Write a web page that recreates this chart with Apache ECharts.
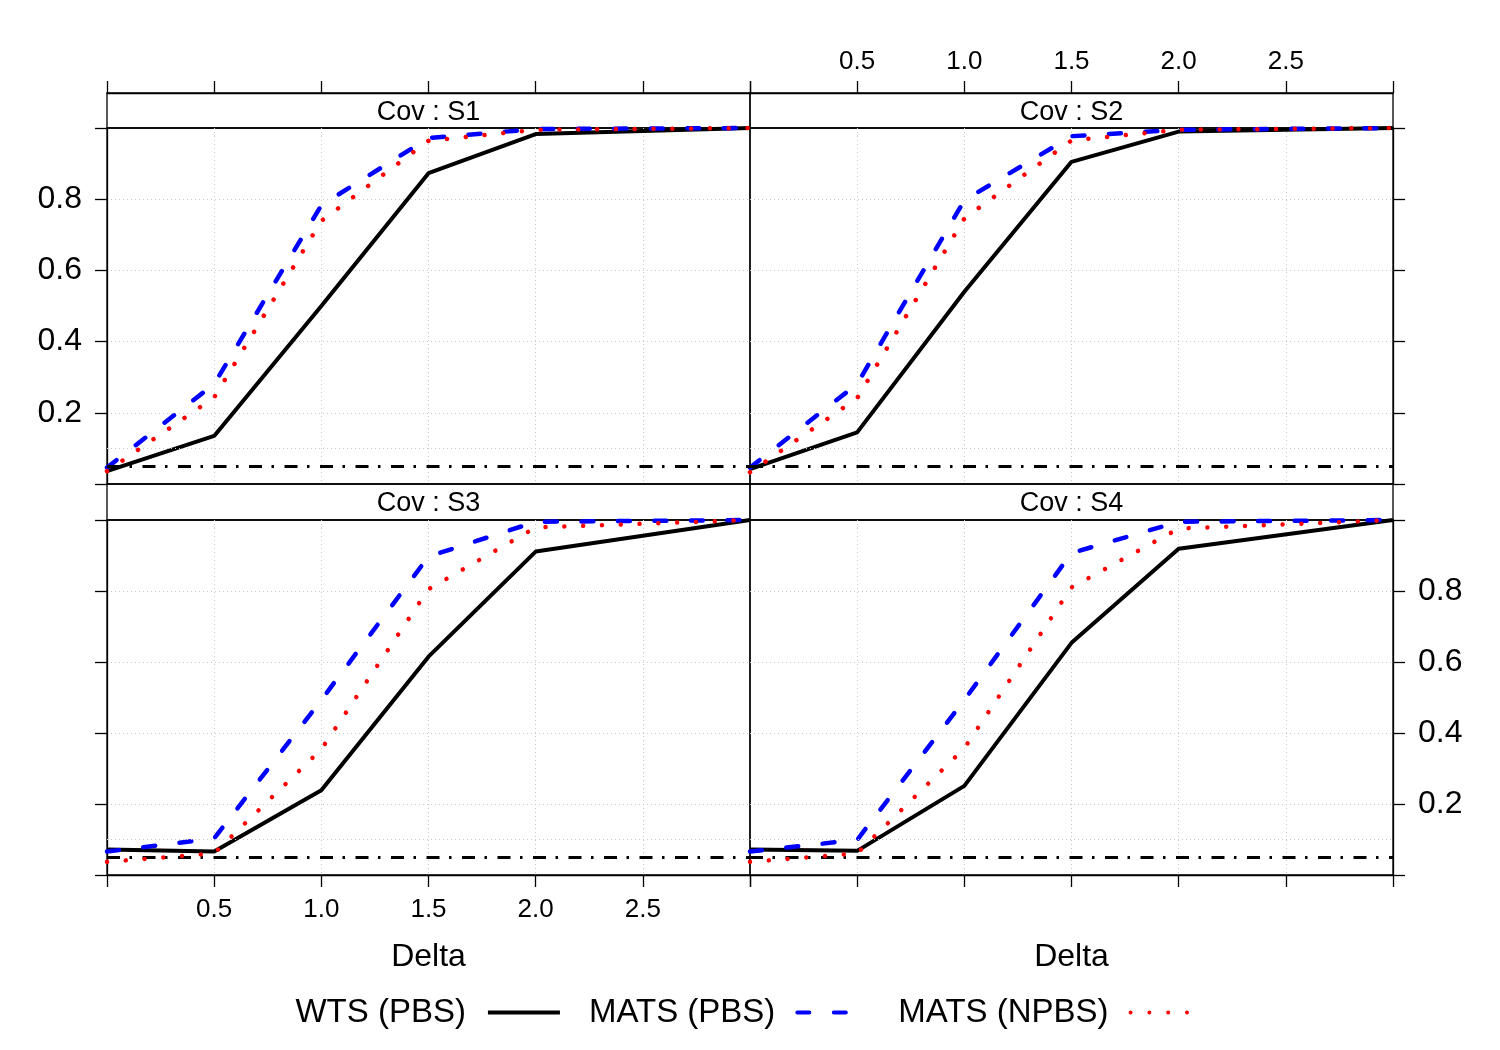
<!DOCTYPE html>
<html>
<head>
<meta charset="utf-8">
<script src="https://cdn.jsdelivr.net/npm/echarts@6/dist/echarts.min.js"></script>
<style>
  html, body { margin: 0; padding: 0; background: #fff; }
  #main { width: 1500px; height: 1050px; }
</style>
</head>
<body>
<div id="main"></div>
<script>
// delta values on the x axis
var delta = [0, 0.5, 1, 1.5, 2, 3];

// rejection rates per covariance setting
var s1Wts      = [0.036, 0.135, 0.500, 0.873, 0.983, 1.0];
var s1MatsPbs  = [0.046, 0.281, 0.783, 0.972, 0.997, 1.0];
var s1MatsNpbs = [0.036, 0.243, 0.739, 0.964, 0.995, 1.0];

var s2Wts      = [0.042, 0.145, 0.540, 0.905, 0.990, 1.0];
var s2MatsPbs  = [0.046, 0.281, 0.797, 0.977, 0.995, 1.0];
var s2MatsNpbs = [0.033, 0.241, 0.746, 0.965, 0.995, 1.0];

var s3Wts      = [0.072, 0.066, 0.239, 0.615, 0.911, 1.0];
var s3MatsPbs  = [0.066, 0.103, 0.493, 0.897, 0.995, 1.0];
var s3MatsNpbs = [0.037, 0.061, 0.354, 0.805, 0.979, 1.0];

var s4Wts      = [0.072, 0.068, 0.251, 0.654, 0.919, 1.0];
var s4MatsPbs  = [0.066, 0.099, 0.493, 0.907, 0.995, 1.0];
var s4MatsNpbs = [0.037, 0.061, 0.357, 0.810, 0.976, 1.0];

var panelNames = ['Cov : S1', 'Cov : S2', 'Cov : S3', 'Cov : S4'];
var seriesNames = ['WTS (PBS)', 'MATS (PBS)', 'MATS (NPBS)'];
var alpha = 0.05;
var extraGridY = [0.1];

var xTickValues = [0, 0.5, 1, 1.5, 2, 2.5, 3];
var xTickLabels = ['', '0.5', '1.0', '1.5', '2.0', '2.5', ''];
var yTickValues = [0, 0.2, 0.4, 0.6, 0.8, 1];
var yTickLabels = ['', '0.2', '0.4', '0.6', '0.8', ''];

var panelData = [
  [s1Wts, s1MatsPbs, s1MatsNpbs],
  [s2Wts, s2MatsPbs, s2MatsNpbs],
  [s3Wts, s3MatsPbs, s3MatsNpbs],
  [s4Wts, s4MatsPbs, s4MatsNpbs]
];

function lookup(values, labels) {
  return function (v) {
    for (var i = 0; i < values.length; i++) {
      if (Math.abs(values[i] - v) < 1e-6) return labels[i];
    }
    return '';
  };
}

// panel layout (px)
var cells = [
  { left: 107, top: 128, height: 356, strip: 93 },
  { left: 750, top: 128, height: 356, strip: 93 },
  { left: 107, top: 520, height: 355, strip: 484 },
  { left: 750, top: 520, height: 355, strip: 484 }
];
var panelW = 643;

var lineStyles = [
  { color: '#000000', width: 4, type: 'solid' },
  { color: '#0000ff', width: 4.5, type: [12, 24.5], cap: 'round' },
  { color: '#ff0000', width: 4.5, type: [0.01, 18.8], cap: 'round' }
];

var gridLine = { color: '#c8c8c8', width: 1, type: [1, 3] };
var blk = { color: '#000', width: 1.3 };

var grids = [], xAxes = [], yAxes = [], series = [], graphics = [];

cells.forEach(function (c, i) {
  grids.push({
    left: c.left, top: c.top, width: panelW, height: c.height,
    show: true, borderColor: '#000', borderWidth: 1.3, backgroundColor: 'transparent'
  });

  // top row: x axis sits above the strip
  xAxes.push({
    gridIndex: i, type: 'value', min: 0, max: 3, interval: 0.5,
    position: i < 2 ? 'top' : 'bottom',
    offset: i < 2 ? c.top - c.strip : 0,
    axisLine: { show: true, onZero: false, lineStyle: blk },
    axisTick: { show: true, length: 12, lineStyle: blk },
    axisLabel: {
      show: i === 1 || i === 2, fontSize: 26, color: '#000', margin: i < 2 ? 18 : 22,
      formatter: lookup(xTickValues, xTickLabels)
    },
    splitLine: { show: true, showMinLine: false, showMaxLine: false, lineStyle: gridLine },
    name: i >= 2 ? 'Delta' : '',
    nameLocation: 'middle', nameGap: 66,
    nameTextStyle: { fontSize: 32, color: '#000' }
  });

  yAxes.push({
    gridIndex: i, type: 'value', min: 0, max: 1, interval: 0.2,
    position: i % 2 === 0 ? 'left' : 'right',
    axisLine: { show: true, onZero: false, lineStyle: blk },
    axisTick: { show: true, length: 12, lineStyle: blk },
    axisLabel: {
      show: i === 0 || i === 3, fontSize: 32, color: '#000', margin: 25,
      formatter: lookup(yTickValues, yTickLabels)
    },
    splitLine: { show: true, showMinLine: false, showMaxLine: false, lineStyle: gridLine }
  });

  // reference lines: extra grid line and the nominal level
  var marks = extraGridY.map(function (v) {
    return { yAxis: v, lineStyle: gridLine };
  });
  marks.push({ yAxis: alpha, lineStyle: { color: '#000', width: 3, type: [13, 9.5, 2.5, 10.5] } });
  series.push({
    type: 'line', name: 'ref', xAxisIndex: i, yAxisIndex: i, data: [], z: 1,
    markLine: { silent: true, symbol: 'none', label: { show: false }, animation: false, data: marks }
  });

  panelData[i].forEach(function (vals, k) {
    series.push({
      type: 'line', name: seriesNames[k], xAxisIndex: i, yAxisIndex: i,
      data: delta.map(function (d, j) { return [d, vals[j]]; }),
      symbol: 'none', clip: false, silent: true, z: 3 + k,
      itemStyle: { color: lineStyles[k].color },
      lineStyle: lineStyles[k]
    });
  });

  // strip with panel name
  graphics.push({
    type: 'rect', z: -1,
    shape: { x: c.left, y: c.strip, width: panelW, height: c.top - c.strip },
    style: { fill: 'none', stroke: '#000', lineWidth: 1.3 }
  });
  graphics.push({
    type: 'text',
    x: c.left + panelW / 2, y: (c.strip + c.top) / 2 + 2,
    style: {
      text: panelNames[i], fontSize: 27, fontFamily: 'Liberation Sans',
      fill: '#000', align: 'center', verticalAlign: 'middle'
    }
  });
});

var chart = echarts.init(document.getElementById('main'));
chart.setOption({
  animation: false,
  textStyle: { fontFamily: 'Liberation Sans, Arial, sans-serif' },
  grid: grids,
  xAxis: xAxes,
  yAxis: yAxes,
  legend: {
    top: 991, left: 'center', align: 'right',
    itemWidth: 72, itemHeight: 20, itemGap: 27,
    textStyle: { fontSize: 33, color: '#000', padding: [0, 17, 0, 0] },
    itemStyle: { opacity: 0 },
    lineStyle: { width: 4 },
    data: seriesNames
  },
  graphic: graphics,
  series: series
});
</script>
</body>
</html>
